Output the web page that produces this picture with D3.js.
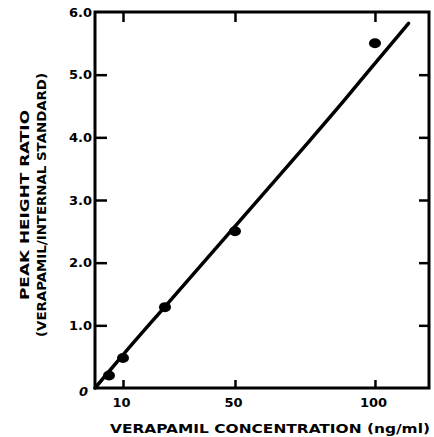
<!DOCTYPE html>
<html>
<head>
<meta charset="utf-8">
<title>Verapamil calibration</title>
<style>
  body { margin: 0; background: #fff; }
  text { font-family: "DejaVu Sans", sans-serif; font-weight: bold; fill: #000; }
  .axis text { font-size: 13px; }
  .axis line { stroke: #000; stroke-width: 2.5; }
  .axis .domain { display: none; }
</style>
<script src="https://d3js.org/d3.v7.min.js"></script>
</head>
<body>
<div id="chart"></div>
<script>
// measured points (ng/ml, peak height ratio)
var concentration = [5, 10, 25, 50, 100];
var ratio = [0.2, 0.48, 1.29, 2.5, 5.5];

// hand-drawn fitted curve
var curveX = [0, 10, 25, 50, 75, 89, 100, 112];
var curveY = [0, 0.53, 1.3, 2.58, 3.86, 4.59, 5.18, 5.82];

var xTicks = [10, 50, 100];
var yTicks = [0, 1, 2, 3, 4, 5, 6];

var margin = {top: 12, right: 5, bottom: 49, left: 95},
    W = 434, H = 437,
    width = W - margin.left - margin.right,
    height = H - margin.top - margin.bottom;

var svg = d3.select("#chart").append("svg")
  .attr("width", W)
  .attr("height", H);

var g = svg.append("g")
  .attr("transform", "translate(" + margin.left + "," + margin.top + ")");

var x = d3.scaleLinear().domain([0, 119.3]).range([0, width]);
var y = d3.scaleLinear().domain([0, 6]).range([height, 0]);

// bottom axis with labels, ticks pointing inward
var bottom = g.append("g")
  .attr("class", "axis")
  .attr("transform", "translate(0," + height + ")")
  .call(d3.axisBottom(x).tickValues(xTicks).tickSizeInner(-8).tickSizeOuter(0).tickPadding(10));
bottom.selectAll(".tick text").attr("dx", -2);

// top axis, ticks only
g.append("g")
  .attr("class", "axis")
  .call(d3.axisTop(x).tickValues(xTicks).tickSizeInner(-10).tickSizeOuter(0).tickFormat(""));

// left axis
var left = g.append("g")
  .attr("class", "axis")
  .call(d3.axisLeft(y).tickValues(yTicks).tickSizeInner(-12).tickSizeOuter(0).tickPadding(3)
    .tickFormat(d => d === 0 ? "0" : d.toFixed(1)));
left.selectAll(".tick").filter(d => d === 0).select("line").remove();
left.selectAll(".tick").filter(d => d === 6).select("line").remove();
left.selectAll(".tick").filter(d => d === 0).select("text")
  .style("font-style", "italic").attr("dy", "0.6em").attr("x", -7);

// right axis, ticks only
g.append("g")
  .attr("class", "axis")
  .attr("transform", "translate(" + width + ",0)")
  .call(d3.axisRight(y).tickValues([1, 2, 3, 4, 5]).tickSizeInner(-10).tickSizeOuter(0).tickFormat(""));

// frame
g.append("rect")
  .attr("x", 0).attr("y", 0)
  .attr("width", width).attr("height", height)
  .attr("fill", "none")
  .attr("stroke", "#000")
  .attr("stroke-width", 3);

// fitted curve
var fit = curveX.map((d, i) => ({x: d, y: curveY[i]}));
var line = d3.line()
  .x(d => x(d.x))
  .y(d => y(d.y))
  .curve(d3.curveMonotoneX);

g.append("path")
  .datum(fit)
  .attr("d", line)
  .attr("fill", "none")
  .attr("stroke", "#000")
  .attr("stroke-width", 3.5)
  .attr("stroke-linecap", "round");

// data points
g.selectAll(".dot")
  .data(concentration)
  .enter()
  .append("ellipse")
  .attr("class", "dot")
  .attr("cx", d => x(d))
  .attr("cy", (d, i) => y(ratio[i]))
  .attr("rx", 6)
  .attr("ry", 5)
  .attr("fill", "#000");

// axis titles
svg.append("text")
  .attr("x", 270)
  .attr("y", 433)
  .attr("text-anchor", "middle")
  .attr("textLength", 320)
  .attr("lengthAdjust", "spacingAndGlyphs")
  .style("font-size", "13px")
  .text("VERAPAMIL CONCENTRATION (ng/ml)");

svg.append("text")
  .attr("transform", "translate(29,205) rotate(-90)")
  .attr("text-anchor", "middle")
  .attr("textLength", 190)
  .attr("lengthAdjust", "spacingAndGlyphs")
  .style("font-size", "13px")
  .text("PEAK HEIGHT RATIO");

svg.append("text")
  .attr("transform", "translate(46,205) rotate(-90)")
  .attr("text-anchor", "middle")
  .attr("textLength", 264)
  .attr("lengthAdjust", "spacingAndGlyphs")
  .style("font-size", "13px")
  .text("(VERAPAMIL/INTERNAL STANDARD)");
</script>
</body>
</html>
